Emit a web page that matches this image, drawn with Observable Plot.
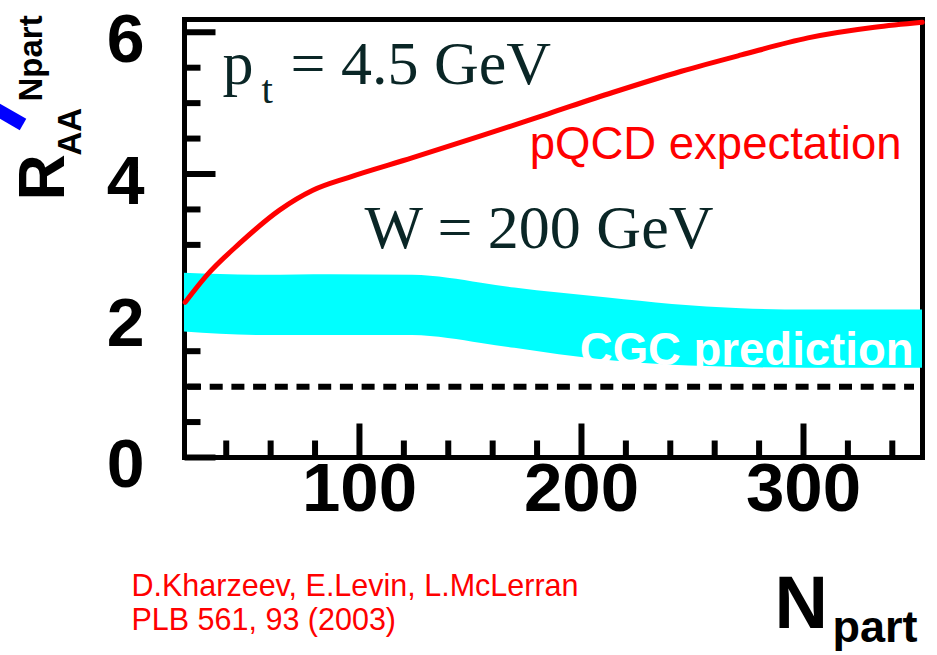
<!DOCTYPE html>
<html><head><meta charset="utf-8">
<script src="https://cdn.jsdelivr.net/npm/d3@7"></script>
<script src="https://cdn.jsdelivr.net/npm/@observablehq/plot@0.6"></script>
<style>
html,body{margin:0;padding:0;background:#fff;}
#wrap{position:relative;width:937px;height:655px;overflow:hidden;}
#wrap svg{position:absolute;left:0;top:0;}
#slash{position:absolute;left:-27px;top:118px;width:50px;height:13px;background:#0000ff;transform-origin:right center;transform:rotate(30deg);}
</style></head><body><div id="wrap"></div>
<script>
// pQCD expectation curve
const nPqcd = [21.5, 31.5, 46, 64, 79, 95, 124, 155, 185, 214, 245, 272, 302, 332, 353.5];
const rPqcd = [2.19, 2.58, 3.02, 3.49, 3.77, 3.95, 4.23, 4.54, 4.85, 5.15, 5.45, 5.68, 5.92, 6.07, 6.14];
// CGC prediction band
const nBand = [21.2, 57, 87, 124, 140, 155, 170, 190, 212, 241, 272, 302, 353.6];
const bandHi = [2.60, 2.57, 2.58, 2.57, 2.53, 2.46, 2.39, 2.32, 2.25, 2.16, 2.10, 2.08, 2.08];
const bandLo = [1.77, 1.72, 1.72, 1.72, 1.68, 1.61, 1.54, 1.45, 1.37, 1.30, 1.27, 1.26, 1.26];
// reference line R = 1
const unityLine = [1];
// ticks
const xMajor = [100, 200, 300];
const xTickLabels = ["100", "200", "300"];
const xMinor = [40, 60, 80, 120, 140, 160, 180, 220, 240, 260, 280, 320, 340];
const yMajor = [0, 2, 4, 6];
const yTickLabels = ["0", "2", "4", "6"];
const yMinor = [0.5, 1, 1.5, 2.5, 3, 3.5, 4.5, 5, 5.5];

const pqcd = nPqcd.map((n, i) => ({n, r: rPqcd[i]}));
const band = nBand.map((n, i) => ({n, hi: bandHi[i], lo: bandLo[i]}));

const sans = '"Liberation Sans", Arial, sans-serif';
const serif = '"Liberation Serif", "Times New Roman", serif';
const tickShape = {draw(ctx, l) { ctx.moveTo(0, 0); ctx.lineTo(0, -l); }};
const ink = "#000";
const serifInk = "#0a2626";

const tickOpts = {anchor: "start", shape: tickShape, stroke: ink, strokeWidth: 6, strokeLinecap: "butt"};

const plot = Plot.plot({
  width: 937, height: 655,
  marginLeft: 184, marginRight: 15, marginTop: 19, marginBottom: 198,
  x: {domain: [21.2, 353.6], axis: null},
  y: {domain: [0, 6.18], axis: null},
  style: {background: "transparent", overflow: "visible"},
  marks: [
    Plot.vector(yMinor, {...tickOpts, y: d => d, frameAnchor: "left", rotate: 90, length: 16}),
    Plot.vector(yMajor, {...tickOpts, y: d => d, frameAnchor: "left", rotate: 90, length: 31}),
    Plot.vector(xMinor, {...tickOpts, x: d => d, frameAnchor: "bottom", rotate: 0, length: 17}),
    Plot.vector(xMajor, {...tickOpts, x: d => d, frameAnchor: "bottom", rotate: 0, length: 34}),
    Plot.frame({stroke: ink, strokeWidth: 5}),
    Plot.ruleY(unityLine, {stroke: ink, strokeWidth: 6, strokeDasharray: "13,8.7", insetLeft: 4, insetRight: 8}),
    Plot.areaY(band, {x: "n", y1: "lo", y2: "hi", fill: "#00ffff", curve: "monotone-x"}),
    Plot.line(pqcd, {x: "n", y: "r", stroke: "#ff0000", strokeWidth: 5, curve: "monotone-x"}),
    // tick labels
    Plot.text(yMajor, {y: d => d, text: (d, i) => yTickLabels[i], frameAnchor: "left", textAnchor: "end", dx: -40, dy: 8, fontSize: 68, fontWeight: "bold", fontFamily: sans, fill: ink}),
    Plot.text(xMajor, {x: d => d, text: (d, i) => xTickLabels[i], frameAnchor: "bottom", dy: 53, fontSize: 69, fontWeight: "bold", fontFamily: sans, fill: ink}),
    // annotations
    Plot.text(["p"], {text: d => d, frameAnchor: "top-left", textAnchor: "start", lineAnchor: "bottom", dx: 38, dy: 64, fontSize: 62, fontFamily: serif, fill: serifInk}),
    Plot.text(["t"], {text: d => d, frameAnchor: "top-left", textAnchor: "start", lineAnchor: "bottom", dx: 77, dy: 83, fontSize: 41, fontFamily: serif, fill: serifInk}),
    Plot.text(["= 4.5 GeV"], {text: d => d, frameAnchor: "top-left", textAnchor: "start", lineAnchor: "bottom", dx: 106, dy: 64, fontSize: 62, fontFamily: serif, fill: serifInk}),
    Plot.text(["W = 200 GeV"], {text: d => d, frameAnchor: "top-left", textAnchor: "start", lineAnchor: "bottom", dx: 180, dy: 228, fontSize: 62, fontFamily: serif, fill: serifInk}),
    Plot.text(["pQCD expectation"], {text: d => d, frameAnchor: "top-right", textAnchor: "end", lineAnchor: "bottom", dx: -21, dy: 139, fontSize: 45.5, fontFamily: sans, fill: "#ff0000"}),
    Plot.text(["CGC prediction"], {text: d => d, frameAnchor: "top-right", textAnchor: "end", lineAnchor: "bottom", dx: -9, dy: 345, fontSize: 45.5, fontWeight: "bold", fontFamily: sans, fill: "#ffffff"}),
    Plot.text(["D.Kharzeev, E.Levin, L.McLerran\nPLB 561, 93 (2003)"], {text: d => d, frameAnchor: "bottom-left", textAnchor: "start", lineAnchor: "bottom", lineHeight: 1.1, dx: -53, dy: 172, fontSize: 30.5, fontFamily: sans, fill: "#ff0000"}),
    // axis titles
    Plot.text(["N"], {text: d => d, frameAnchor: "bottom-right", textAnchor: "start", lineAnchor: "bottom", dx: -148, dy: 170, fontSize: 74, fontWeight: "bold", fontFamily: sans, fill: ink}),
    Plot.text(["part"], {text: d => d, frameAnchor: "bottom-right", textAnchor: "start", lineAnchor: "bottom", dx: -90, dy: 184, fontSize: 45, fontWeight: "bold", fontFamily: sans, fill: ink}),
    Plot.text(["R"], {text: d => d, frameAnchor: "top-left", textAnchor: "start", lineAnchor: "bottom", rotate: -90, dx: -121, dy: 181, fontSize: 64, fontWeight: "bold", fontFamily: sans, fill: ink}),
    Plot.text(["AA"], {text: d => d, frameAnchor: "top-left", textAnchor: "start", lineAnchor: "bottom", rotate: -90, dx: -104, dy: 136, fontSize: 33, fontWeight: "bold", fontFamily: sans, fill: ink}),
    Plot.text(["Npart"], {text: d => d, frameAnchor: "top-left", textAnchor: "start", lineAnchor: "bottom", rotate: -90, dx: -143, dy: 82, fontSize: 33, fontWeight: "bold", fontFamily: sans, fill: ink})
  ]
});
const wrap = document.getElementById("wrap");
wrap.appendChild(plot);
const slash = document.createElement("div");
slash.id = "slash";
wrap.appendChild(slash);
</script>
</body></html>
